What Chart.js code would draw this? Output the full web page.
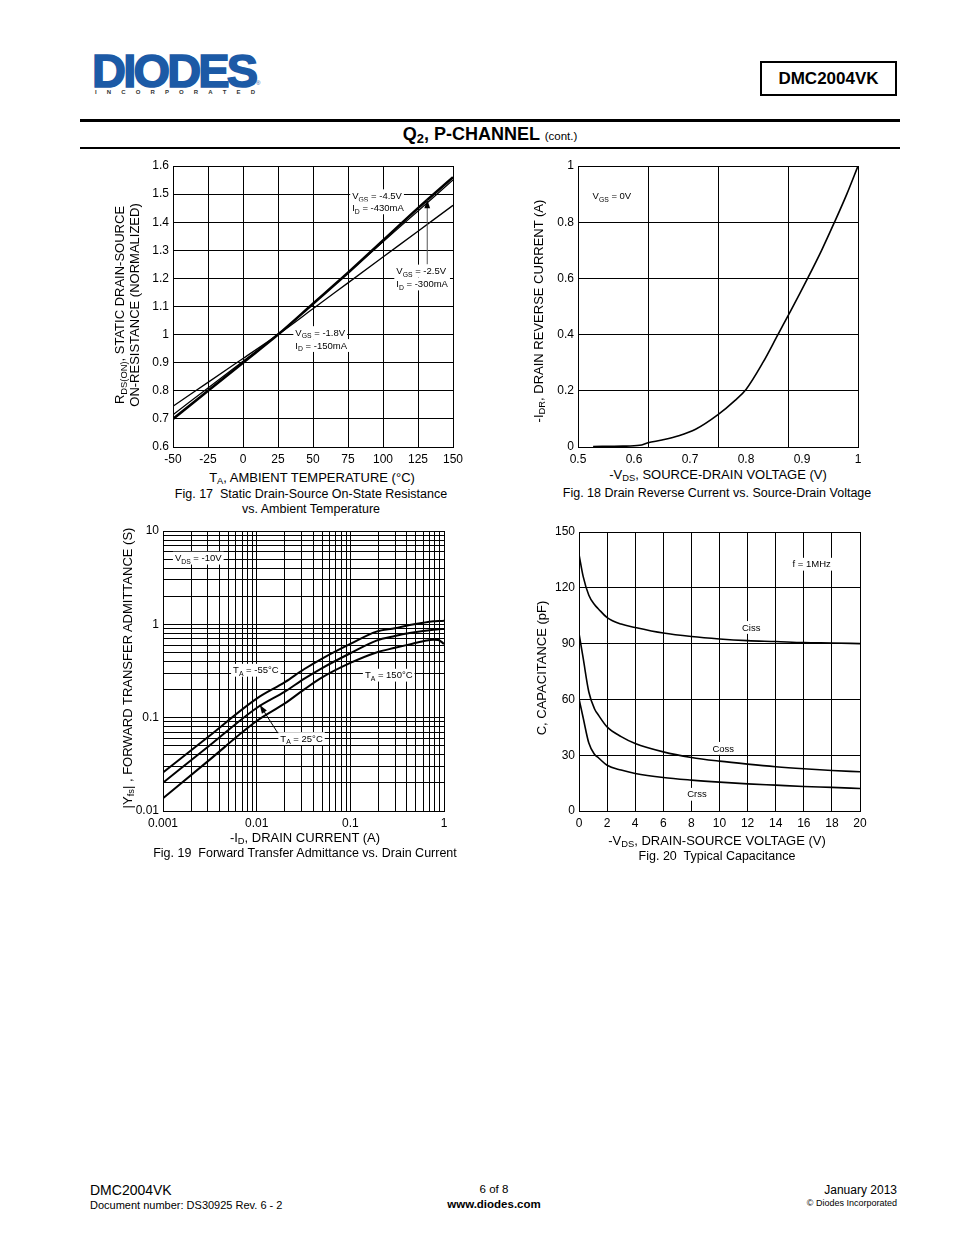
<!DOCTYPE html>
<html>
<head>
<meta charset="utf-8">
<script src="https://cdn.jsdelivr.net/npm/chart.js@4.4.0/dist/chart.umd.min.js"></script>
<style>
  body { margin: 0; width: 954px; height: 1235px; position: relative; background: #fff; color: #000;
         font-family: "Liberation Sans", Arial, sans-serif; overflow: hidden; }
  .abs { position: absolute; }
  .c { position: absolute; transform: translate(-50%, -50%); white-space: nowrap; }
  .r { position: absolute; transform: translate(-50%, -50%) rotate(-90deg); white-space: nowrap; text-align: center; }
  sub { font-size: 0.72em; vertical-align: -0.3em; line-height: 0; }
  .ttl { font-size: 13px; }
  .cap { font-size: 12.5px; text-align: center; line-height: 15px; }
  canvas { position: absolute; }
</style>
</head>
<body>

<!-- header -->
<div class="abs" style="left:92px;top:48px;font-size:47px;font-weight:bold;letter-spacing:-2.8px;color:#1c5aa6;line-height:46px;-webkit-text-stroke:1.6px #1c5aa6;">DIODES</div>
<div class="abs" style="left:256px;top:80px;font-size:6px;color:#1c5aa6;">®</div>
<div class="abs" style="left:95px;top:89px;width:160px;display:flex;justify-content:space-between;font-size:6px;font-weight:bold;color:#333;">
  <span>I</span><span>N</span><span>C</span><span>O</span><span>R</span><span>P</span><span>O</span><span>R</span><span>A</span><span>T</span><span>E</span><span>D</span>
</div>
<div class="abs" style="left:760px;top:61px;width:133px;height:31px;border:2px solid #000;font-size:17px;font-weight:bold;text-align:center;line-height:31px;">DMC2004VK</div>
<div class="abs" style="left:80px;top:119px;width:820px;height:3px;background:#000;"></div>
<div class="c" style="left:490px;top:134px;font-size:18px;font-weight:bold;">Q<sub>2</sub>, P-CHANNEL <span style="font-size:11.5px;font-weight:normal;">(cont.)</span></div>
<div class="abs" style="left:80px;top:147px;width:820px;height:2px;background:#000;"></div>

<!-- chart canvases -->
<canvas id="fig17" width="355" height="310" style="left:110px;top:155px;"></canvas>
<canvas id="fig18" width="345" height="310" style="left:530px;top:155px;"></canvas>
<canvas id="fig19" width="350" height="310" style="left:110px;top:520px;"></canvas>
<canvas id="fig20" width="345" height="310" style="left:530px;top:520px;"></canvas>

<!-- Fig 17 texts -->
<div class="r ttl" style="left:127px;top:305px;line-height:15px;">R<sub>DS(ON)</sub>, STATIC DRAIN-SOURCE<br>ON-RESISTANCE (NORMALIZED)</div>
<div class="c ttl" style="left:312px;top:477px;">T<sub>A</sub>, AMBIENT TEMPERATURE (°C)</div>
<div class="c cap" style="left:311px;top:502px;">Fig. 17&nbsp; Static Drain-Source On-State Resistance<br>vs. Ambient Temperature</div>

<!-- Fig 18 texts -->
<div class="r ttl" style="left:538px;top:311px;">-I<sub>DR</sub>, DRAIN REVERSE CURRENT (A)</div>
<div class="c ttl" style="left:718px;top:474px;">-V<sub>DS</sub>, SOURCE-DRAIN VOLTAGE (V)</div>
<div class="c cap" style="left:717px;top:493px;">Fig. 18 Drain Reverse Current vs. Source-Drain Voltage</div>

<!-- Fig 19 texts -->
<div class="r ttl" style="left:127px;top:668px;">|Y<sub>fs</sub>| , FORWARD TRANSFER ADMITTANCE (S)</div>
<div class="c ttl" style="left:305px;top:837px;">-I<sub>D</sub>, DRAIN CURRENT (A)</div>
<div class="c cap" style="left:305px;top:853px;">Fig. 19&nbsp; Forward Transfer Admittance vs. Drain Current</div>

<!-- Fig 20 texts -->
<div class="r ttl" style="left:541px;top:668px;">C, CAPACITANCE (pF)</div>
<div class="c ttl" style="left:717px;top:840px;">-V<sub>DS</sub>, DRAIN-SOURCE VOLTAGE (V)</div>
<div class="c cap" style="left:717px;top:856px;">Fig. 20&nbsp; Typical Capacitance</div>

<!-- footer -->
<div class="abs" style="left:90px;top:1182px;font-size:14px;">DMC2004VK</div>
<div class="abs" style="left:90px;top:1199px;font-size:11px;">Document number: DS30925 Rev. 6 - 2</div>
<div class="c" style="left:494px;top:1189px;font-size:11.5px;">6 of 8</div>
<div class="c" style="left:494px;top:1204px;font-size:11.5px;font-weight:bold;">www.diodes.com</div>
<div class="abs" style="right:57px;top:1183px;font-size:12px;">January 2013</div>
<div class="abs" style="right:57px;top:1198px;font-size:9px;">© Diodes Incorporated</div>

<script>
// Fig. 17 - normalized RDS(on) vs temperature
const tempC = [-50, -25, 0, 25, 50, 75, 100, 125, 150];
const rdsVgs45 = [0.70, 0.80, 0.90, 1.00, 1.11, 1.22, 1.335, 1.45, 1.56];
const rdsVgs25 = [0.715, 0.81, 0.905, 1.00, 1.11, 1.22, 1.33, 1.44, 1.55];
const rdsVgs18 = [0.745, 0.83, 0.915, 1.00, 1.092, 1.184, 1.276, 1.368, 1.46];
const tempTicks = [-50, -25, 0, 25, 50, 75, 100, 125, 150];
const rdsTicks = [0.6, 0.7, 0.8, 0.9, 1.0, 1.1, 1.2, 1.3, 1.4, 1.5, 1.6];

// Fig. 18 - drain reverse current vs source-drain voltage
const vsd = [0.527, 0.58, 0.61, 0.625, 0.65, 0.68, 0.71, 0.75, 0.78, 0.80, 0.83, 0.857, 0.88, 0.91, 0.935, 0.958, 0.98, 1.0];
const idr = [0.002, 0.003, 0.006, 0.015, 0.025, 0.04, 0.063, 0.115, 0.165, 0.205, 0.30, 0.40, 0.485, 0.60, 0.70, 0.80, 0.90, 1.0];
const vsdTicks = [0.5, 0.6, 0.7, 0.8, 0.9, 1];
const vsdGrid = [0.5, 0.625, 0.75, 0.875, 1];
const idrTicks = [0, 0.2, 0.4, 0.6, 0.8, 1];

// Fig. 19 - |Yfs| vs drain current (log-log)
const idCurrent = [0.001, 0.003, 0.01, 0.02, 0.032, 0.05, 0.1, 0.19, 0.3, 0.43, 0.6, 0.77, 0.87, 1];
const yfsM55 = [0.0259, 0.0617, 0.16, 0.24, 0.33, 0.43, 0.617, 0.836, 0.91, 0.984, 1.04, 1.076, 1.085, 1.09];
const yfs25 = [0.0201, 0.0484, 0.127, 0.19, 0.26, 0.34, 0.49, 0.67, 0.75, 0.807, 0.85, 0.875, 0.885, 0.89];
const yfs150 = [0.0137, 0.034, 0.092, 0.142, 0.20, 0.27, 0.386, 0.50, 0.56, 0.61, 0.66, 0.685, 0.68, 0.617];
const idDecades = [0.001, 0.01, 0.1, 1];
const yfsDecades = [0.01, 0.1, 1, 10];

// Fig. 20 - capacitance vs drain-source voltage
const vds = [0, 0.3, 0.7, 1.1, 1.4, 2, 3, 4, 6, 8, 10, 12, 14, 16, 18, 20];
const ciss = [138, 126, 116, 111, 108.5, 104, 100.5, 98.7, 95.7, 93.8, 92.5, 91.6, 91.1, 90.5, 90.3, 90];
const coss = [95.5, 82, 64, 55, 51.4, 45.2, 40, 36.3, 31.8, 28.8, 26.8, 25.2, 23.8, 22.7, 21.8, 21.1];
const crss = [60.4, 50, 36.5, 30.5, 28.5, 24.6, 22, 20.2, 18, 16.6, 15.5, 14.6, 13.9, 13.2, 12.7, 12.1];
const vdsTicks = [0, 2, 4, 6, 8, 10, 12, 14, 16, 18, 20];
const capTicks = [0, 30, 60, 90, 120, 150];

Chart.defaults.font.family = '"Liberation Sans", Arial, sans-serif';
Chart.defaults.font.size = 12;
Chart.defaults.color = '#000';

const FONT = '"Liberation Sans", Arial, sans-serif';

function xy(xs, ys) { return xs.map((x, i) => ({ x: x, y: ys[i] })); }

// decade list -> 1..9 per decade
function logTicks(decades) {
  const out = [];
  decades.forEach((d, i) => {
    if (i === decades.length - 1) { out.push(d); return; }
    for (let k = 1; k < 10; k++) out.push(Number((k * d).toPrecision(3)));
  });
  return out;
}

function makeAxis(ticks, size, isY, extra) {
  extra = extra || {};
  return {
    type: extra.type || 'linear',
    min: ticks[0],
    max: ticks[ticks.length - 1],
    afterBuildTicks: s => { s.ticks = ticks.map(v => ({ value: v })); },
    afterFit: s => {
      if (isY) s.width = size; else s.height = size;
      // keep plot edges where the layout padding puts them
      s.paddingLeft = s.paddingRight = s.paddingTop = s.paddingBottom = 0;
    },
    grid: { color: extra.gridColor || '#000', lineWidth: 1, drawTicks: false },
    border: { color: '#000', width: 1 },
    ticks: {
      color: '#000', font: { size: 12 }, padding: isY ? 4 : 5,
      autoSkip: false, maxRotation: 0,
      callback: extra.label || (v => String(Number(v.toFixed(3))))
    }
  };
}

function line(data, width) {
  return { data: data, borderColor: '#000', borderWidth: width, pointRadius: 0, fill: false,
           tension: 0, cubicInterpolationMode: 'monotone' };
}

// split "V_{GS} = -4.5V" into normal / subscript parts
function parts(str) {
  const out = [];
  const re = /_\{([^}]*)\}/g;
  let last = 0, m;
  while ((m = re.exec(str))) {
    if (m.index > last) out.push({ t: str.slice(last, m.index), sub: false });
    out.push({ t: m[1], sub: true });
    last = re.lastIndex;
  }
  if (last < str.length) out.push({ t: str.slice(last), sub: false });
  return out;
}

function drawRich(ctx, str, px, py, size) {
  const segs = parts(str);
  const subSize = size * 0.72;
  let w = 0;
  segs.forEach(s => {
    ctx.font = (s.sub ? subSize : size) + 'px ' + FONT;
    s.w = ctx.measureText(s.t).width;
    w += s.w;
  });
  ctx.fillStyle = '#fff';
  ctx.fillRect(px - 2, py - size * 0.65, w + 4, size * 1.35);
  ctx.fillStyle = '#000';
  ctx.textBaseline = 'alphabetic';
  ctx.textAlign = 'left';
  const base = py + size * 0.36;
  let cx = px;
  segs.forEach(s => {
    ctx.font = (s.sub ? subSize : size) + 'px ' + FONT;
    ctx.fillText(s.t, cx, s.sub ? base + size * 0.28 : base);
    cx += s.w;
  });
}

function drawArrow(ctx, x1, y1, x2, y2, color) {
  ctx.save();
  ctx.strokeStyle = color;
  ctx.lineWidth = 1;
  ctx.beginPath(); ctx.moveTo(x1, y1); ctx.lineTo(x2, y2); ctx.stroke();
  const a = Math.atan2(y2 - y1, x2 - x1), h = 9;
  ctx.fillStyle = '#000';
  ctx.beginPath();
  ctx.moveTo(x2, y2);
  ctx.lineTo(x2 - h * Math.cos(a - 0.33), y2 - h * Math.sin(a - 0.33));
  ctx.lineTo(x2 - h * Math.cos(a + 0.33), y2 - h * Math.sin(a + 0.33));
  ctx.closePath(); ctx.fill();
  ctx.restore();
}

// annotation labels and arrows, placed in data coordinates
const notes = {
  id: 'notes',
  afterDatasetsDraw(chart, args, opts) {
    const ctx = chart.ctx, sx = chart.scales.x, sy = chart.scales.y;
    ctx.save();
    (opts.arrows || []).forEach(a => {
      drawArrow(ctx, sx.getPixelForValue(a.x1), sy.getPixelForValue(a.y1),
                sx.getPixelForValue(a.x2), sy.getPixelForValue(a.y2), a.color || '#000');
    });
    (opts.labels || []).forEach(l => {
      drawRich(ctx, l.t, sx.getPixelForValue(l.x), sy.getPixelForValue(l.y), opts.size || 10);
    });
    ctx.restore();
  }
};

function baseOptions(layoutPad, scales, noteOpts) {
  return {
    responsive: false,
    animation: false,
    events: [],
    layout: { padding: layoutPad },
    scales: scales,
    plugins: { legend: { display: false }, tooltip: { enabled: false }, notes: noteOpts }
  };
}

// Fig. 17
new Chart(document.getElementById('fig17'), {
  type: 'line',
  data: { datasets: [
    line(xy(tempC, rdsVgs45), 2.6),
    line(xy(tempC, rdsVgs25), 1.2),
    line(xy(tempC, rdsVgs18), 1.3)
  ] },
  options: baseOptions({ top: 11, right: 12, left: 0, bottom: 0 }, {
    x: makeAxis(tempTicks, 18, false),
    y: makeAxis(rdsTicks, 63, true)
  }, {
    size: 9.5,
    arrows: [{ x1: 131.6, y1: 1.25, x2: 131.6, y2: 1.48, color: '#555' }],
    labels: [
      { x: 78, y: 1.495, t: 'V_{GS} = -4.5V' },
      { x: 78, y: 1.452, t: 'I_{D} = -430mA' },
      { x: 109.5, y: 1.227, t: 'V_{GS} = -2.5V' },
      { x: 109.5, y: 1.181, t: 'I_{D} = -300mA' },
      { x: 37.4, y: 1.008, t: 'V_{GS} = -1.8V' },
      { x: 37.4, y: 0.962, t: 'I_{D} = -150mA' }
    ]
  }),
  plugins: [notes]
});

// Fig. 18
const vsdAll = [0.5, 0.6, 0.625, 0.7, 0.75, 0.8, 0.875, 0.9, 1];
new Chart(document.getElementById('fig18'), {
  type: 'line',
  data: { datasets: [ line(xy(vsd, idr), 1.6) ] },
  options: baseOptions({ top: 11, right: 17, left: 0, bottom: 0 }, {
    x: makeAxis(vsdAll, 18, false, {
      label: v => vsdTicks.includes(v) ? String(v) : '',
      gridColor: c => (c.tick && vsdGrid.includes(c.tick.value)) ? '#000' : 'rgba(0,0,0,0)'
    }),
    y: makeAxis(idrTicks, 48, true)
  }, {
    size: 9.5,
    labels: [ { x: 0.526, y: 0.893, t: 'V_{GS} = 0V' } ]
  }),
  plugins: [notes]
});

// Fig. 19
const decadeLabel = list => (v => list.includes(v) ? String(v) : '');
new Chart(document.getElementById('fig19'), {
  type: 'line',
  data: { datasets: [
    line(xy(idCurrent, yfsM55), 2),
    line(xy(idCurrent, yfs25), 2),
    line(xy(idCurrent, yfs150), 2)
  ] },
  options: baseOptions({ top: 11, right: 16, left: 0, bottom: 0 }, {
    x: makeAxis(logTicks(idDecades), 19, false, { type: 'logarithmic', label: decadeLabel(idDecades) }),
    y: makeAxis(logTicks(yfsDecades), 53, true, { type: 'logarithmic', label: decadeLabel(yfsDecades) })
  }, {
    size: 9.5,
    arrows: [{ x1: 0.0169, y1: 0.068, x2: 0.0108, y2: 0.137, color: '#000' }],
    labels: [
      { x: 0.00134, y: 5.15, t: 'V_{DS} = -10V' },
      { x: 0.0056, y: 0.324, t: 'T_{A} = -55°C' },
      { x: 0.143, y: 0.287, t: 'T_{A} = 150°C' },
      { x: 0.0179, y: 0.060, t: 'T_{A} = 25°C' }
    ]
  }),
  plugins: [notes]
});

// Fig. 20
new Chart(document.getElementById('fig20'), {
  type: 'line',
  data: { datasets: [
    line(xy(vds, ciss), 1.6),
    line(xy(vds, coss), 1.6),
    line(xy(vds, crss), 1.6)
  ] },
  options: baseOptions({ top: 12, right: 15, left: 0, bottom: 0 }, {
    x: makeAxis(vdsTicks, 19, false),
    y: makeAxis(capTicks, 49, true)
  }, {
    size: 9.5,
    labels: [
      { x: 15.2, y: 132.8, t: 'f = 1MHz' },
      { x: 11.6, y: 98.8, t: 'Ciss' },
      { x: 9.5, y: 33.8, t: 'Coss' },
      { x: 7.7, y: 9.1, t: 'Crss' }
    ]
  }),
  plugins: [notes]
});
</script>
</body>
</html>
